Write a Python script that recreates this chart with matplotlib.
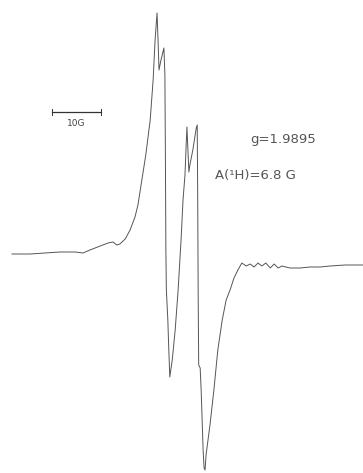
import numpy as np
import matplotlib.pyplot as plt

# EPR derivative spectrum, field in G (relative), signal in arbitrary units
field = [0.0, 3.7, 6.7, 9.8, 12.9, 14.5, 15.9, 18.0, 19.6, 20.6,
         21.4, 22.0, 23.1, 24.1, 25.1, 25.7, 26.5, 27.3, 28.2, 28.8,
         29.2, 29.6, 29.8, 30.0, 30.4, 31.0, 31.2, 31.3, 31.4, 31.5,
         31.8, 32.0, 32.2, 32.7, 33.3, 33.9, 34.5, 34.9, 35.3, 35.5,
         35.7, 35.9, 36.1, 36.3, 36.9, 37.6, 37.8, 37.9, 38.0, 38.1,
         38.4, 38.6, 38.8, 39.0, 39.2, 39.4, 39.6, 40.0, 40.4, 41.2,
         42.0, 42.9, 43.7, 44.5, 45.3, 46.1, 46.9, 47.8, 48.6, 49.4,
         50.2, 51.0, 51.8, 52.7, 53.5, 54.3, 55.1, 56.7, 58.8, 60.8,
         62.9, 64.9, 68.0, 71.6]
signal = [0, 0, 1, 2, 2, 1, 4, 8, 11, 12,
          9, 10, 15, 24, 37, 49, 74, 99, 134, 174,
          214, 241, 214, 184, 194, 206, 179, 104, 4, -36,
          -66, -96, -123, -106, -76, -36, 14, 54, 79, 104,
          127, 104, 82, 89, 104, 126, 129, 54, -46, -111,
          -114, -136, -166, -196, -214, -216, -201, -186, -171, -136,
          -96, -66, -46, -36, -24, -16, -9, -12, -10, -13,
          -9, -12, -9, -14, -10, -14, -12, -14, -14, -13,
          -13, -12, -11, -11]

g_text = "g=1.9895"
a_text = "A(¹H)=6.8 G"
bar_len = 10  # G

fig = plt.figure(figsize=(3.63, 4.73), dpi=100)
ax = fig.add_axes([0, 0, 1, 1])
ax.plot(field, signal, color="#555555", lw=0.7)

# scale bar
x0, yb = 8.2, 142
ax.plot([x0, x0 + bar_len], [yb, yb], color="#333333", lw=0.9)
ax.plot([x0, x0], [yb - 3, yb + 3], color="#333333", lw=0.7)
ax.plot([x0 + bar_len, x0 + bar_len], [yb - 3, yb + 3], color="#333333", lw=0.7)
ax.text(x0 + bar_len / 2, yb - 11, "10G", ha="center", va="center",
        fontsize=6.5, color="#444444")

ax.text(48.6, 114, g_text, ha="left", va="center", fontsize=9.5, color="#555555")
ax.text(41.4, 79, a_text, ha="left", va="center", fontsize=9.5, color="#555555")

ax.set_xlim(-2.45, 71.63)
ax.set_ylim(-219, 254)
ax.axis("off")
fig.savefig("out.png", dpi=100)
